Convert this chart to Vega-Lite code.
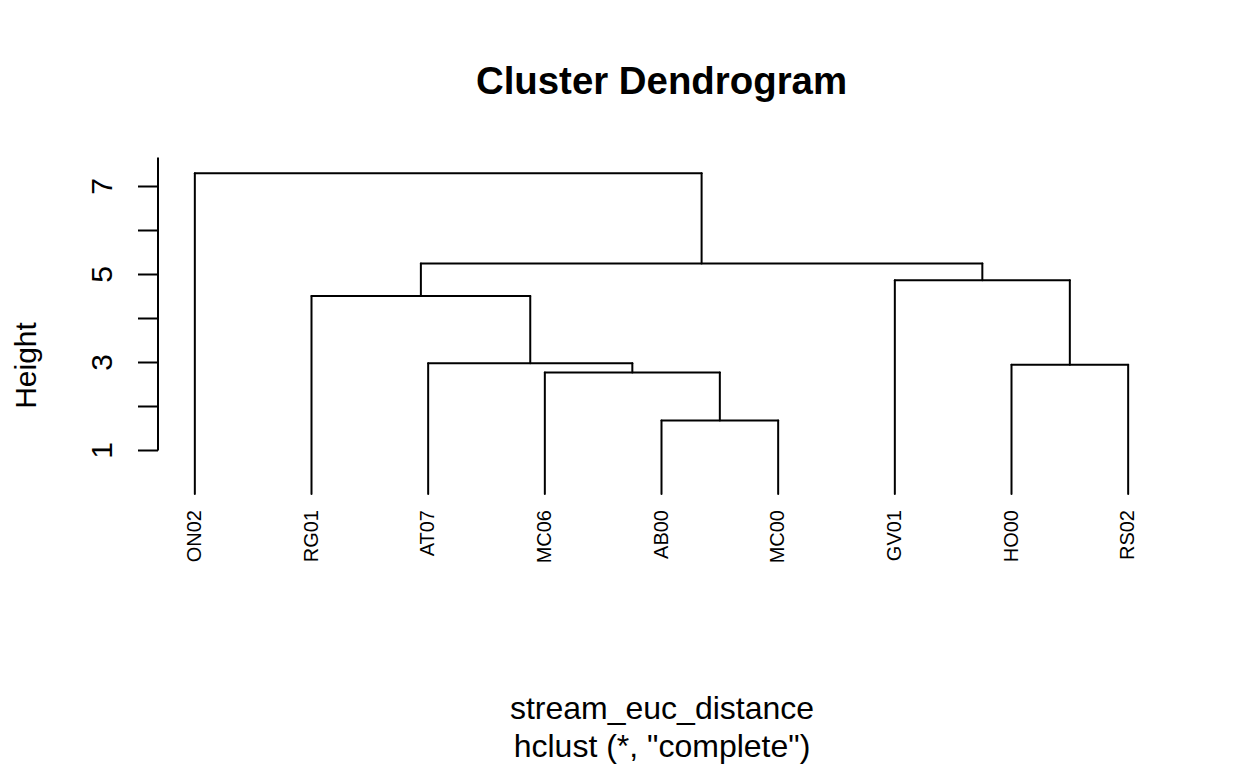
{
  "$schema": "https://vega.github.io/schema/vega-lite/v6.json",
  "width": 1008,
  "height": 293,
  "autosize": {"type": "none"},
  "padding": {"left": 157.5, "top": 157, "right": 82.5, "bottom": 318},
  "background": "white",
  "config": {
    "view": {"stroke": null},
    "font": "Liberation Sans",
    "axis": {"grid": false}
  },
  "title": {
    "text": "Cluster Dendrogram",
    "fontSize": 38.4,
    "fontWeight": "bold",
    "font": "Liberation Sans",
    "anchor": "middle",
    "baseline": "alphabetic",
    "offset": 25,
    "color": "black"
  },
  "datasets": {
    "links": [
      {"node": "root", "x": 1, "x2": 1, "y": 0, "y2": 7.29},
      {"node": "root", "x": 5.34375, "x2": 5.34375, "y": 5.24, "y2": 7.29},
      {"node": "root", "x": 1, "x2": 5.34375, "y": 7.29, "y2": 7.29},
      {"node": "R", "x": 2.9375, "x2": 2.9375, "y": 4.50, "y2": 5.24},
      {"node": "R", "x": 7.75, "x2": 7.75, "y": 4.86, "y2": 5.24},
      {"node": "R", "x": 2.9375, "x2": 7.75, "y": 5.24, "y2": 5.24},
      {"node": "A", "x": 2, "x2": 2, "y": 0, "y2": 4.50},
      {"node": "A", "x": 3.875, "x2": 3.875, "y": 2.97, "y2": 4.50},
      {"node": "A", "x": 2, "x2": 3.875, "y": 4.50, "y2": 4.50},
      {"node": "C", "x": 3, "x2": 3, "y": 0, "y2": 2.97},
      {"node": "C", "x": 4.75, "x2": 4.75, "y": 2.76, "y2": 2.97},
      {"node": "C", "x": 3, "x2": 4.75, "y": 2.97, "y2": 2.97},
      {"node": "D", "x": 4, "x2": 4, "y": 0, "y2": 2.76},
      {"node": "D", "x": 5.5, "x2": 5.5, "y": 1.67, "y2": 2.76},
      {"node": "D", "x": 4, "x2": 5.5, "y": 2.76, "y2": 2.76},
      {"node": "E", "x": 5, "x2": 5, "y": 0, "y2": 1.67},
      {"node": "E", "x": 6, "x2": 6, "y": 0, "y2": 1.67},
      {"node": "E", "x": 5, "x2": 6, "y": 1.67, "y2": 1.67},
      {"node": "B", "x": 7, "x2": 7, "y": 0, "y2": 4.86},
      {"node": "B", "x": 8.5, "x2": 8.5, "y": 2.94, "y2": 4.86},
      {"node": "B", "x": 7, "x2": 8.5, "y": 4.86, "y2": 4.86},
      {"node": "F", "x": 8, "x2": 8, "y": 0, "y2": 2.94},
      {"node": "F", "x": 9, "x2": 9, "y": 0, "y2": 2.94},
      {"node": "F", "x": 8, "x2": 9, "y": 2.94, "y2": 2.94}
    ],
    "leaves": [
      {"leaf": "ON02", "pos": 1, "height": 0},
      {"leaf": "RG01", "pos": 2, "height": 0},
      {"leaf": "AT07", "pos": 3, "height": 0},
      {"leaf": "MC06", "pos": 4, "height": 0},
      {"leaf": "AB00", "pos": 5, "height": 0},
      {"leaf": "MC00", "pos": 6, "height": 0},
      {"leaf": "GV01", "pos": 7, "height": 0},
      {"leaf": "HO00", "pos": 8, "height": 0},
      {"leaf": "RS02", "pos": 9, "height": 0}
    ]
  },
  "layer": [
    {
      "data": {"name": "links"},
      "mark": {"type": "rule", "strokeWidth": 2, "color": "black", "strokeCap": "round"},
      "encoding": {
        "x": {
          "field": "x",
          "type": "quantitative",
          "scale": {"domain": [0.68, 9.32], "nice": false, "zero": false},
          "axis": {
            "labels": false,
            "ticks": false,
            "domain": false,
            "title": ["stream_euc_distance", "hclust (*, \"complete\")"],
            "titleFont": "Liberation Sans",
            "titleFontSize": 32,
            "titleFontWeight": "normal",
            "titleLineHeight": 38,
            "titleBaseline": "alphabetic",
            "titleAlign": "center",
            "titleX": 504,
            "titleY": 268,
            "titleColor": "black"
          }
        },
        "x2": {"field": "x2"},
        "y": {
          "field": "y",
          "type": "quantitative",
          "scale": {"domain": [1, 7.658], "nice": false, "zero": false},
          "axis": {
            "values": [1, 2, 3, 4, 5, 6, 7],
            "labelExpr": "datum.value % 2 == 1 ? datum.label : ''",
            "tickSize": 20,
            "tickWidth": 2,
            "domainWidth": 2,
            "tickColor": "black",
            "domainColor": "black",
            "labelColor": "black",
            "labelFont": "Liberation Sans",
            "labelFontSize": 30,
            "labelAngle": 270,
            "labelAlign": "center",
            "labelBaseline": "alphabetic",
            "labelPadding": 26,
            "labelOverlap": false,
            "labelFlush": false,
            "labelBound": false,
            "title": "Height",
            "titleFont": "Liberation Sans",
            "titleFontSize": 30,
            "titleFontWeight": "normal",
            "titleAngle": 270,
            "titleAlign": "center",
            "titleBaseline": "alphabetic",
            "titleX": -122,
            "titleY": 208,
            "titleColor": "black"
          }
        },
        "y2": {"field": "y2"}
      }
    },
    {
      "data": {"name": "leaves"},
      "mark": {
        "type": "text",
        "angle": 270,
        "align": "right",
        "baseline": "middle",
        "dx": -16,
        "fontSize": 20,
        "font": "Liberation Sans",
        "color": "black"
      },
      "encoding": {
        "x": {"field": "pos", "type": "quantitative"},
        "y": {"field": "height", "type": "quantitative"},
        "text": {"field": "leaf"}
      }
    }
  ]
}
